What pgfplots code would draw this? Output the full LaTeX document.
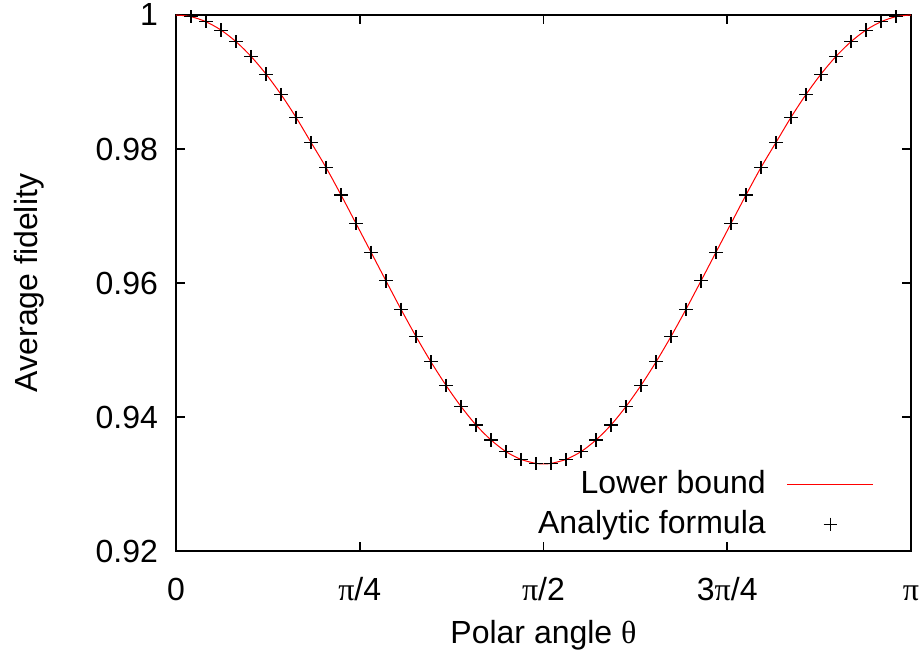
\documentclass[border=0pt]{standalone}
\usepackage{fontspec}
\setmainfont{Liberation Sans}
\newfontfamily\symf{Liberation Serif}
\usepackage{pgfplots}
\usepackage{pgfplotstable}
\pgfplotsset{compat=1.18}

\pgfplotstableread{
x y
0.0641 0.99975
0.1282 0.99899
0.1923 0.99775
0.2565 0.99602
0.3206 0.99382
0.3847 0.99118
0.4488 0.98814
0.5129 0.98473
0.5770 0.98099
0.6411 0.97725
0.7053 0.97314
0.7694 0.96888
0.8335 0.96460
0.8976 0.96031
0.9617 0.95608
1.0258 0.95202
1.0899 0.94822
1.1541 0.94472
1.2182 0.94157
1.2823 0.93881
1.3464 0.93657
1.4105 0.93483
1.4746 0.93367
1.5387 0.93307
1.6028 0.93307
1.6670 0.93367
1.7311 0.93483
1.7952 0.93657
1.8593 0.93881
1.9234 0.94157
1.9875 0.94472
2.0517 0.94822
2.1158 0.95202
2.1799 0.95608
2.2440 0.96031
2.3081 0.96460
2.3722 0.96888
2.4363 0.97314
2.5005 0.97725
2.5646 0.98099
2.6287 0.98473
2.6928 0.98814
2.7569 0.99118
2.8210 0.99382
2.8851 0.99602
2.9492 0.99775
3.0134 0.99899
3.0775 0.99975
}\analytic

\pgfplotstableread{
x y
0.0000 1.00000
0.0641 0.99975
0.1282 0.99899
0.1923 0.99775
0.2565 0.99602
0.3206 0.99382
0.3847 0.99118
0.4488 0.98814
0.5129 0.98473
0.5770 0.98099
0.6411 0.97725
0.7053 0.97314
0.7694 0.96888
0.8335 0.96460
0.8976 0.96031
0.9617 0.95608
1.0258 0.95202
1.0899 0.94822
1.1541 0.94472
1.2182 0.94157
1.2823 0.93881
1.3464 0.93657
1.4105 0.93483
1.4746 0.93367
1.5387 0.93307
1.5708 0.93300
1.6028 0.93307
1.6670 0.93367
1.7311 0.93483
1.7952 0.93657
1.8593 0.93881
1.9234 0.94157
1.9875 0.94472
2.0517 0.94822
2.1158 0.95202
2.1799 0.95608
2.2440 0.96031
2.3081 0.96460
2.3722 0.96888
2.4363 0.97314
2.5005 0.97725
2.5646 0.98099
2.6287 0.98473
2.6928 0.98814
2.7569 0.99118
2.8210 0.99382
2.8851 0.99602
2.9492 0.99775
3.0134 0.99899
3.0775 0.99975
3.1416 1.00000
}\lowerbound

\begin{document}
\fontsize{16}{19}\selectfont
\begin{tikzpicture}
\begin{axis}[
  width=367.5pt, height=268pt, scale only axis,
  xmin=0, xmax=3.14159, ymin=0.92, ymax=1,
  xtick={0,0.785398,1.570796,2.356194,3.141593},
  xticklabels={0\vphantom{/}, {\symf π}/4, {\symf π}/2, 3{\symf π}/4, {\symf π}\vphantom{/}},
  ytick={0.92,0.94,0.96,0.98,1},
  yticklabels={0.92,0.94,0.96,0.98,1},
  tick align=inside, tick pos=both,
  major tick length=4.5pt,
  axis line style={line width=0.8pt},
  every tick/.style={black, line width=0.8pt},
  yticklabel style={xshift=-3.5pt},
  xticklabel style={yshift=-7.5pt},
  xlabel={Polar angle {\symf θ}},
  ylabel={Average fidelity},
  xlabel style={at={(axis description cs:0.5,-0.157)}, anchor=center},
  ylabel style={at={(axis description cs:-0.2,0.5)}, anchor=center},
  legend style={draw=none, fill=none, at={(axis description cs:0.958,0.010)}, anchor=south east,
    row sep=3pt, column sep=9pt, nodes={inner sep=1.5pt}},
  legend cell align=right, legend plot pos=right,
  legend image code/.code={\draw[mark repeat=2,mark phase=2,#1] plot coordinates {(0pt,0pt) (21.5pt,0pt) (43pt,0pt)};},
]
\addplot[red, line width=0.5pt, smooth, no markers] table {\lowerbound};
\addlegendentry{Lower bound}
\addplot[only marks, mark=+, black, mark size=3.3pt, mark options={line width=0.55pt}] table {\analytic};
\addlegendentry{Analytic formula}
\end{axis}
\pgfresetboundingbox
\path ([shift={(-88pt,-51.5pt)}]current axis.south west) rectangle ([shift={(6pt,7.5pt)}]current axis.north east);
\end{tikzpicture}
\end{document}
